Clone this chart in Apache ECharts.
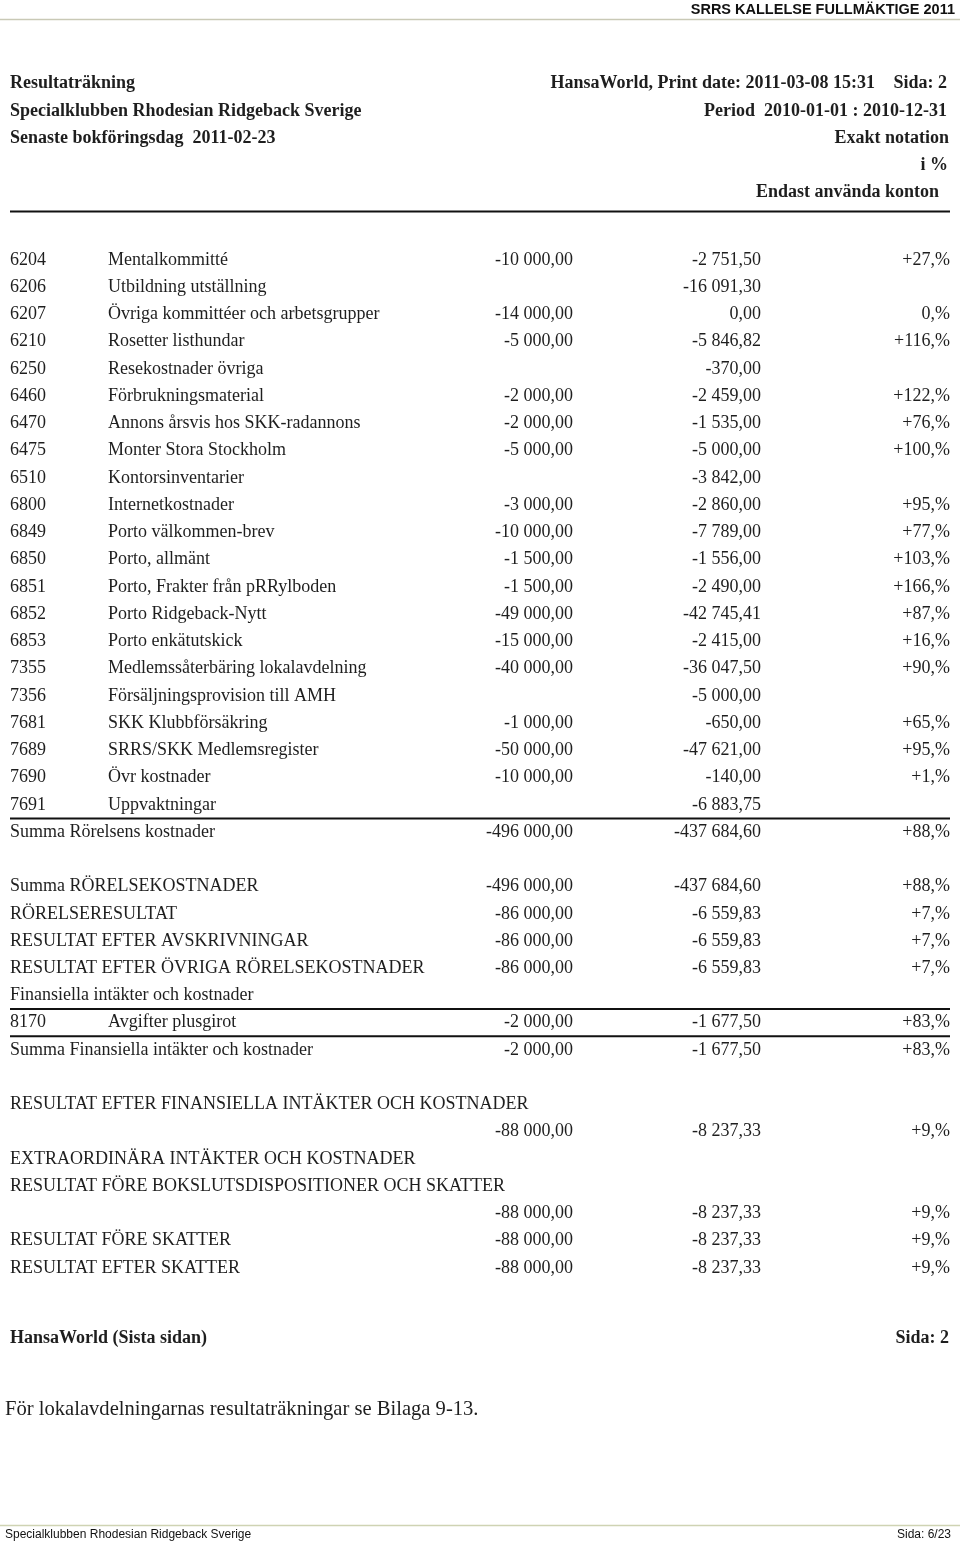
<!DOCTYPE html>
<html>
<head>
<meta charset="utf-8">
<title>Resultaträkning</title>
<script src="https://cdn.jsdelivr.net/npm/echarts@6/dist/echarts.min.js"></script>
<style>
  html, body { margin: 0; padding: 0; background: #fff; }
  #main { width: 960px; height: 1546px; }
</style>
</head>
<body>
<div id="main"></div>
<script>
// rader i resultaträkningen (tomma strängar/null = ingen cell)
const accounts = [
  '6204', '6206', '6207', '6210', '6250', '6460', '6470', '6475', '6510', '6800',
  '6849', '6850', '6851', '6852', '6853', '7355', '7356', '7681', '7689', '7690',
  '7691', '', '', '', '', '', '', '', '8170', '',
  '', '', '', '', '', '', '', ''
];
const labels = [
  'Mentalkommitté', 'Utbildning utställning', 'Övriga kommittéer och arbetsgrupper',
  'Rosetter listhundar', 'Resekostnader övriga', 'Förbrukningsmaterial',
  'Annons årsvis hos SKK-radannons', 'Monter Stora Stockholm', 'Kontorsinventarier',
  'Internetkostnader', 'Porto välkommen-brev', 'Porto, allmänt',
  'Porto, Frakter från pRRylboden', 'Porto Ridgeback-Nytt', 'Porto enkätutskick',
  'Medlemssåterbäring lokalavdelning', 'Försäljningsprovision till AMH',
  'SKK Klubbförsäkring', 'SRRS/SKK Medlemsregister', 'Övr kostnader', 'Uppvaktningar',
  'Summa Rörelsens kostnader', '',
  'Summa RÖRELSEKOSTNADER', 'RÖRELSERESULTAT', 'RESULTAT EFTER AVSKRIVNINGAR',
  'RESULTAT EFTER ÖVRIGA RÖRELSEKOSTNADER', 'Finansiella intäkter och kostnader',
  'Avgifter plusgirot', 'Summa Finansiella intäkter och kostnader', '',
  'RESULTAT EFTER FINANSIELLA INTÄKTER OCH KOSTNADER', '',
  'EXTRAORDINÄRA INTÄKTER OCH KOSTNADER',
  'RESULTAT FÖRE BOKSLUTSDISPOSITIONER OCH SKATTER', '',
  'RESULTAT FÖRE SKATTER', 'RESULTAT EFTER SKATTER'
];
const budget = [
  -10000, null, -14000, -5000, null, -2000, -2000, -5000, null, -3000,
  -10000, -1500, -1500, -49000, -15000, -40000, null, -1000, -50000, -10000,
  null, -496000, null, -496000, -86000, -86000, -86000, null, -2000, -2000,
  null, null, -88000, null, null, -88000, -88000, -88000
];
const actual = [
  -2751.50, -16091.30, 0, -5846.82, -370, -2459, -1535, -5000, -3842, -2860,
  -7789, -1556, -2490, -42745.41, -2415, -36047.50, -5000, -650, -47621, -140,
  -6883.75, -437684.60, null, -437684.60, -6559.83, -6559.83, -6559.83, null, -1677.50, -1677.50,
  null, null, -8237.33, null, null, -8237.33, -8237.33, -8237.33
];
const percent = [
  27, null, 0, 116, null, 122, 76, 100, null, 95,
  77, 103, 166, 87, 16, 90, null, 65, 95, 1,
  null, 88, null, 88, 7, 7, 7, null, 83, 83,
  null, null, 9, null, null, 9, 9, 9
];
// rader som har ett streck ovanför sig
const ruleAbove = [21, 28, 29];

const rowIdx = labels.map((_, i) => i);

function money(v) {
  if (v == null) return '';
  const neg = v < 0;
  const parts = Math.abs(v).toFixed(2).split('.');
  const whole = parts[0].replace(/\B(?=(\d{3})+(?!\d))/g, ' ');
  return (neg ? '-' : '') + whole + ',' + parts[1];
}
function pct(v) {
  if (v == null) return '';
  return (v > 0 ? '+' : '') + v + ',%';
}

const SERIF = '"Liberation Serif", "Times New Roman", serif';
const SANS = '"Liberation Sans", Arial, sans-serif';
const INK = '#1e1e1e';
const col = { acct: 10, name: 108, budget: 573, actual: 761, pct: 950, right: 950 };

function txt(x, y, s, align, font) {
  return {
    type: 'text', x: x, y: y, silent: true,
    style: { text: s, align: align, verticalAlign: 'middle', font: font, fill: INK }
  };
}

const chart = echarts.init(document.getElementById('main'), null, { renderer: 'canvas' });

const rowFont = '18px ' + SERIF;
const headFont = 'bold 18px ' + SERIF;

chart.setOption({
  animation: false,
  backgroundColor: '#fff',
  grid: { left: 0, right: 0, top: 246.4, height: 1035.1 },
  xAxis: { type: 'value', min: 0, max: 960, show: false },
  yAxis: { type: 'category', data: rowIdx.map(String), inverse: true, show: false },
  series: [{
    type: 'custom',
    clip: false,
    silent: true,
    encode: { x: 0, y: 1 },
    data: rowIdx.map(i => [0, i]),
    renderItem: function (params, api) {
      const i = api.value(1);
      const y = api.coord([0, i])[1];
      const h = api.size([0, 1])[1];
      const X = c => api.coord([c, i])[0];
      const kids = [];
      if (accounts[i]) {
        kids.push(txt(X(col.acct), y, accounts[i], 'left', rowFont));
        kids.push(txt(X(col.name), y, labels[i], 'left', rowFont));
      } else if (labels[i]) {
        kids.push(txt(X(col.acct), y, labels[i], 'left', rowFont));
      }
      kids.push(txt(X(col.budget), y, money(budget[i]), 'right', rowFont));
      kids.push(txt(X(col.actual), y, money(actual[i]), 'right', rowFont));
      kids.push(txt(X(col.pct), y, pct(percent[i]), 'right', rowFont));
      if (ruleAbove.indexOf(i) >= 0) {
        const yl = y - h / 2;
        kids.push({
          type: 'line', silent: true,
          shape: { x1: X(col.acct), y1: yl, x2: X(col.right), y2: yl },
          style: { stroke: '#111', lineWidth: 2 }
        });
      }
      return { type: 'group', children: kids };
    }
  }],
  graphic: [
    // sidhuvud
    { type: 'text', x: 955, y: 10, style: { text: 'SRRS KALLELSE FULLMÄKTIGE 2011', align: 'right', verticalAlign: 'middle', font: 'bold 14.5px ' + SANS, fill: '#111' } },
    { type: 'line', shape: { x1: 0, y1: 19.5, x2: 960, y2: 19.5 }, style: { stroke: '#c9c9b6', lineWidth: 1.5 } },

    txt(10, 83, 'Resultaträkning', 'left', headFont),
    txt(10, 111, 'Specialklubben Rhodesian Ridgeback Sverige', 'left', headFont),
    txt(10, 138, 'Senaste bokföringsdag  2011-02-23', 'left', headFont),

    txt(875, 83, 'HansaWorld, Print date: 2011-03-08 15:31', 'right', headFont),
    txt(947, 83, 'Sida: 2', 'right', headFont),
    txt(947, 111, 'Period  2010-01-01 : 2010-12-31', 'right', headFont),
    txt(949, 138, 'Exakt notation', 'right', headFont),
    txt(948, 165, 'i %', 'right', headFont),
    txt(939, 192, 'Endast använda konton', 'right', headFont),
    { type: 'line', shape: { x1: 10, y1: 211.5, x2: 950, y2: 211.5 }, style: { stroke: '#111', lineWidth: 2 } },

    // sidfot rapport
    txt(10, 1338, 'HansaWorld (Sista sidan)', 'left', headFont),
    txt(949, 1338, 'Sida: 2', 'right', headFont),

    txt(5, 1410, 'För lokalavdelningarnas resultaträkningar se Bilaga 9-13.', 'left', '20.6px ' + SERIF),

    { type: 'line', shape: { x1: 0, y1: 1525.5, x2: 960, y2: 1525.5 }, style: { stroke: '#cfd3b3', lineWidth: 1.5 } },
    { type: 'text', x: 5, y: 1535, style: { text: 'Specialklubben Rhodesian Ridgeback Sverige', align: 'left', verticalAlign: 'middle', font: '12px ' + SANS, fill: '#111' } },
    { type: 'text', x: 951, y: 1535, style: { text: 'Sida: 6/23', align: 'right', verticalAlign: 'middle', font: '12px ' + SANS, fill: '#111' } }
  ]
});

window.addEventListener('resize', () => chart.resize());
</script>
</body>
</html>
